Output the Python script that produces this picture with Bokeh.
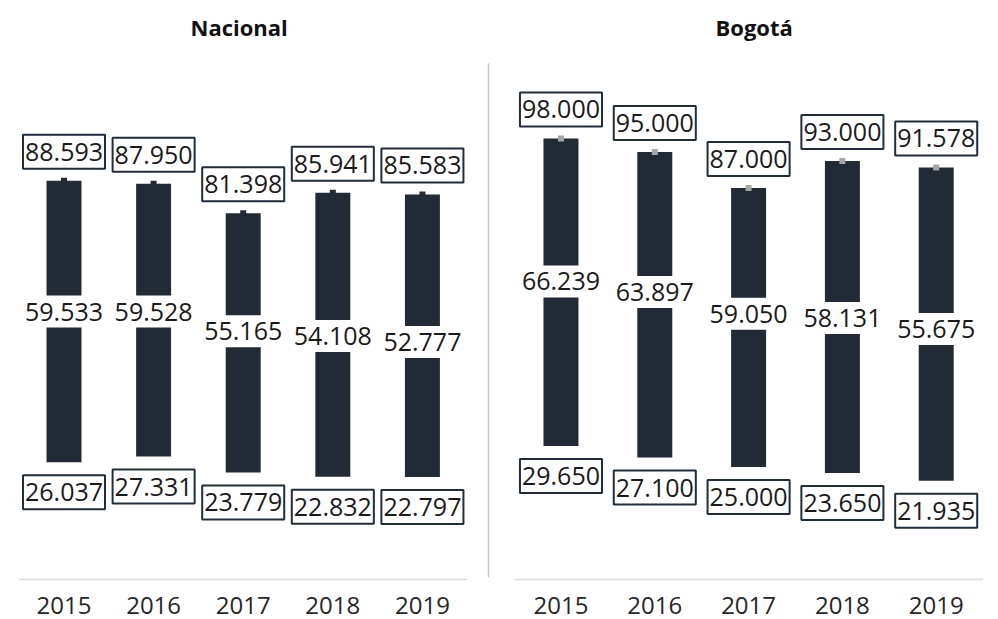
from bokeh.plotting import figure
from bokeh.layouts import row
from bokeh.models import Range1d, FixedTicker, ColumnDataSource
from bokeh.embed import file_html
from bokeh.resources import INLINE
from bokeh.core.properties import value

# ---- data ----
years = ["2015", "2016", "2017", "2018", "2019"]
nac_max = [88.593, 87.950, 81.398, 85.941, 85.583]
nac_mid = [59.533, 59.528, 55.165, 54.108, 52.777]
nac_min = [26.037, 27.331, 23.779, 22.832, 22.797]
bog_max = [98.000, 95.000, 87.000, 93.000, 91.578]
bog_mid = [66.239, 63.897, 59.050, 58.131, 55.675]
bog_min = [29.650, 27.100, 25.000, 23.650, 21.935]

# ---- style ----
BAR = "#222a35"
BOX = "#1f2d3d"
TXT = "#1a1a1a"
FONT = "Open Sans"
H = 619
TOP_B, BOT_B = 48, 36
Y0, Y1 = -0.889, 118.0


def panel(title, mx, md, mn, width, xs, xe, bar_w, title_left, nub_color, sep_x=None):
    p = figure(width=width, height=H, x_range=Range1d(xs, xe), y_range=Range1d(Y0, Y1),
               output_backend="svg", toolbar_location=None, y_axis_location=None,
               min_border_left=0, min_border_right=0, min_border_top=TOP_B, min_border_bottom=BOT_B,
               outline_line_color=None, background_fill_color="white", border_fill_color="white")
    p.grid.visible = False
    ax = p.xaxis[0]
    ax.ticker = FixedTicker(ticks=list(range(len(years))))
    ax.major_label_overrides = {i: y for i, y in enumerate(years)}
    ax.axis_line_color = None
    ax.major_tick_line_color = None
    ax.minor_tick_line_color = None
    ax.major_label_standoff = 7
    ax.major_label_text_font = FONT
    ax.major_label_text_font_size = "24px"
    ax.major_label_text_color = "#262626"

    p.title.text = title
    p.title.align = "left"
    p.title.offset = title_left
    p.title.text_font = FONT
    p.title.text_font_size = "22px"
    p.title.text_font_style = "bold"
    p.title.text_color = "#111111"
    p.title.standoff = 14

    src = ColumnDataSource(dict(
        x=list(range(len(years))), top=mx, mid=md, bot=mn,
        tmax=[f"{v:.3f}" for v in mx], tmid=[f"{v:.3f}" for v in md], tmin=[f"{v:.3f}" for v in mn]))

    # baseline
    p.segment(x0=[-0.5], x1=[len(years) - 0.5], y0=[0], y1=[0], line_color="#d9d9d9", line_width=1.5)
    if sep_x is not None:
        p.segment(x0=[sep_x], x1=[sep_x], y0=[0.5], y1=[114.7], line_color="#c8c8c8", line_width=1.5)

    p.vbar(x="x", width=bar_w, top="top", bottom="bot", source=src, fill_color=BAR, line_color=None)
    p.rect(x="x", y="top", width=6, height=6, width_units="screen", height_units="screen",
           source=src, fill_color=nub_color, line_color=None)

    common = dict(text_font=value(FONT), text_font_size="25px", text_color=TXT,
                  text_align="center", text_baseline="middle")
    p.text(x="x", y="mid", text="tmid", source=src, background_fill_color="white",
           padding=dict(left=2, right=2, top=7, bottom=7), **common)
    box = dict(background_fill_color="white", border_line_color=BOX, border_line_width=2,
               padding=dict(left=2, right=2, top=8, bottom=8))
    p.text(x="x", y="top", text="tmax", y_offset=-29, source=src, **box, **common)
    p.text(x="x", y="bot", text="tmin", y_offset=30, source=src, **box, **common)
    return p


p1 = panel("Nacional", nac_max, nac_mid, nac_min, 498, -0.7087, 4.849, 0.39, 190, BAR, sep_x=4.738)
p2 = panel("Bogotá", bog_max, bog_mid, bog_min, 500, -0.666, 4.664, 0.373, 217, "#a6a6a6")

layout = row(p1, p2)
open("out.html", "w").write(file_html(layout, INLINE))
